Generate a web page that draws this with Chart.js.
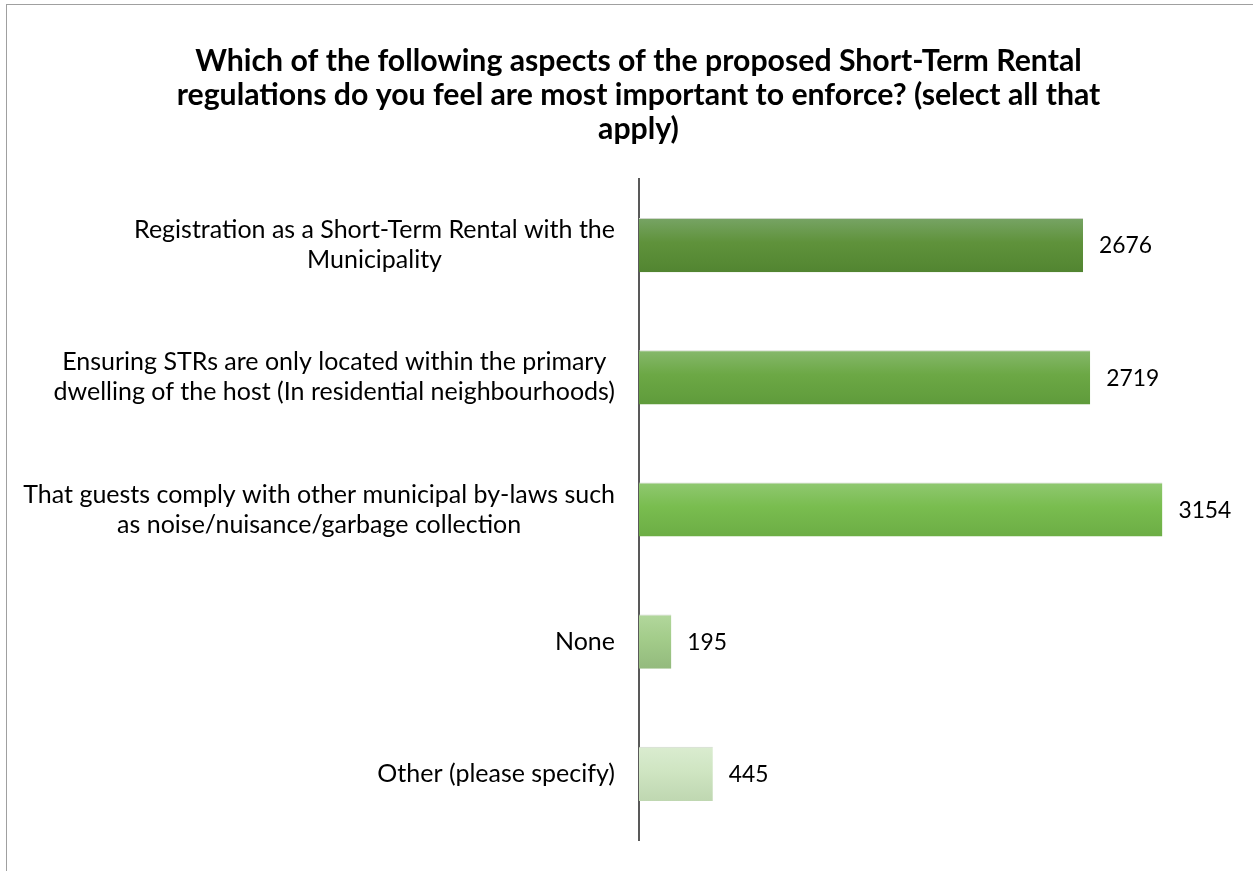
<!DOCTYPE html>
<html>
<head>
<meta charset="utf-8">
<script src="https://cdn.jsdelivr.net/npm/chart.js@4.4.1/dist/chart.umd.min.js"></script>
<style>
  html, body { margin: 0; padding: 0; background: #fff; overflow: hidden; width: 1253px; height: 871px; }
  #frame { position: absolute; left: 6px; top: 4px; width: 1400px; height: 1000px; border: 1px solid #a0a0a0; box-sizing: border-box; }
  #wrap { position: absolute; left: 0; top: 0; width: 1253px; height: 871px; }
</style>
</head>
<body>
<div id="frame"></div>
<div id="wrap"><canvas id="c" width="1253" height="871"></canvas></div>
<script>
const titleLines = [
  "Which of the following aspects of the proposed Short-Term Rental",
  "regulations do you feel are most important to enforce? (select all that",
  "apply)"
];
const categories = [
  ["Registration as a Short-Term Rental with the", "Municipality"],
  ["Ensuring STRs are only located within the primary", "dwelling of the host (In residential neighbourhoods)"],
  ["That guests comply with other municipal by-laws such", "as noise/nuisance/garbage collection"],
  ["None"],
  ["Other (please specify)"]
];
const responses = [2676, 2719, 3154, 195, 445];

const barGradients = [
  ['#77a465', '#5f923b', '#528531'],
  ['#86b86c', '#6ca845', '#5f9b3b'],
  ['#90c871', '#79bd4f', '#6cad45'],
  ['#b2d79c', '#a3cc8a', '#93ba7d'],
  ['#daecd0', '#cfe5c2', '#bfd7b1']
];

const FONT = "Lato, 'Open Sans', sans-serif";

// fit font sizes to the reference text widths
const mctx = document.createElement('canvas').getContext('2d');
function fitSize(text, weight, target) {
  mctx.font = weight + " 20px " + FONT;
  return 20 * target / mctx.measureText(text).width;
}
const titleSize = fitSize(titleLines[0], 'bold', 887);
const labelSize = fitSize(categories[0][0], 'normal', 481);
const valueSize = fitSize("2676", 'normal', 53);

const labelPlugin = {
  id: 'catLabels',
  afterDraw(chart) {
    const ctx = chart.ctx;
    const ys = chart.scales.y;
    const xs = chart.scales.x;
    ctx.save();
    ctx.fillStyle = '#000';
    ctx.font = labelSize.toFixed(2) + "px " + FONT;
    ctx.textBaseline = 'middle';
    ctx.textAlign = 'center';
    const rightEdge = chart.chartArea.left - 24;
    const lh = 30;
    categories.forEach((lines, i) => {
      const yc = ys.getPixelForValue(i);
      const w = Math.max(...lines.map(l => ctx.measureText(l).width));
      const cx = rightEdge - w / 2;
      lines.forEach((l, j) => {
        ctx.fillText(l, cx, yc + (j - (lines.length - 1) / 2) * lh);
      });
    });
    ctx.font = valueSize.toFixed(2) + "px " + FONT;
    ctx.textAlign = 'left';
    responses.forEach((v, i) => {
      const yc = ys.getPixelForValue(i);
      ctx.fillText(String(v), xs.getPixelForValue(v) + 16, yc + 1);
    });
    ctx.restore();
  }
};

new Chart(document.getElementById('c'), {
  type: 'bar',
  data: {
    labels: categories,
    datasets: [{
      data: responses,
      backgroundColor(context) {
        const chart = context.chart;
        const ys = chart.scales.y;
        if (!ys || !chart.chartArea) return barGradients[context.dataIndex][1];
        const i = context.dataIndex;
        const band = Math.abs(ys.getPixelForValue(1) - ys.getPixelForValue(0));
        const h = band * 0.41;
        const yc = ys.getPixelForValue(i);
        const g = chart.ctx.createLinearGradient(0, yc - h / 2, 0, yc + h / 2);
        const s = barGradients[i];
        g.addColorStop(0, s[0]);
        g.addColorStop(0.45, s[1]);
        g.addColorStop(1, s[2]);
        return g;
      },
      borderColor: '#cfd6cb',
      borderWidth: { top: 1, right: 0, bottom: 0, left: 0 },
      borderSkipped: false,
      barPercentage: 0.41,
      categoryPercentage: 1
    }]
  },
  options: {
    indexAxis: 'y',
    responsive: false,
    animation: false,
    devicePixelRatio: 1,
    layout: { padding: { left: 24, right: 0, top: 0, bottom: 31 } },
    plugins: {
      legend: { display: false },
      tooltip: { enabled: false },
      title: {
        display: true,
        text: titleLines,
        color: '#000',
        font: { family: FONT, size: titleSize, weight: 'bold', lineHeight: 34 / titleSize },
        padding: { top: 44, bottom: 33 }
      }
    },
    scales: {
      x: { display: false, min: 0, max: 3700 },
      y: {
        ticks: { display: false },
        grid: { display: false, drawTicks: false },
        border: { display: true, color: '#595959', width: 2 },
        afterFit(scale) { scale.width = 615; }
      }
    }
  },
  plugins: [labelPlugin]
});
</script>
</body>
</html>
